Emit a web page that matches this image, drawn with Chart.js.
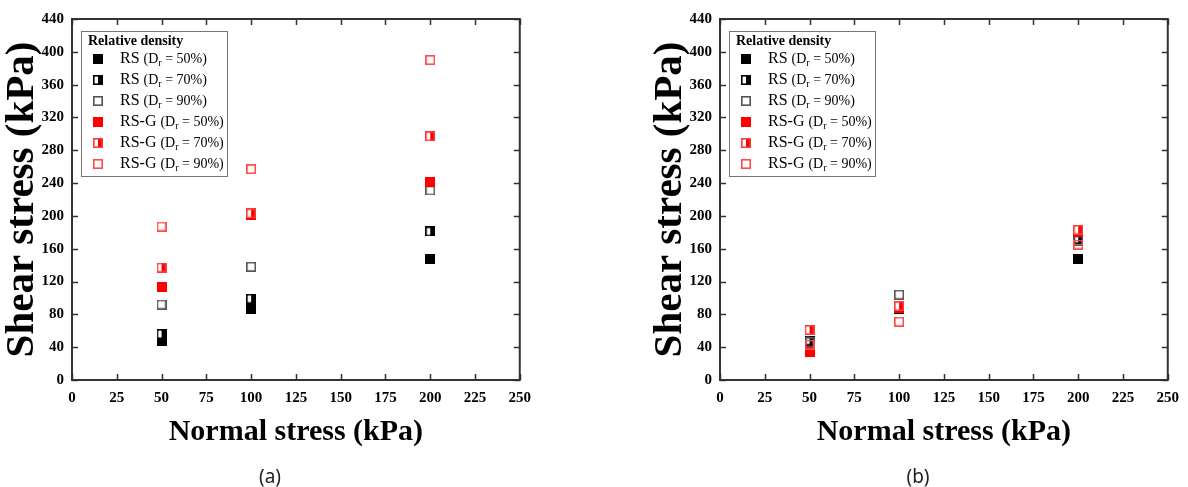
<!DOCTYPE html>
<html>
<head>
<meta charset="utf-8">
<script src="https://cdn.jsdelivr.net/npm/chart.js@4.4.0/dist/chart.umd.min.js"></script>
<style>
body { margin: 0; background: #fff; width: 1188px; height: 487px; overflow: hidden; position: relative; }
canvas { position: absolute; top: 0; }
#chartA { left: 0; }
#chartB { left: 648px; }
.panel { position: absolute; top: 464px; width: 60px; text-align: center; font: 19px 'Noto Sans', sans-serif; line-height: 24px; color: #222; }
</style>
</head>
<body>
<canvas id="chartA" width="540" height="487"></canvas>
<canvas id="chartB" width="540" height="487"></canvas>
<div class="panel" style="left:240px">(a)</div>
<div class="panel" style="left:888px">(b)</div>
<script>
// normal stress levels (kPa)
const normalStress = [50, 100, 200];
const seriesNames = ['RS', 'RS', 'RS', 'RS-G', 'RS-G', 'RS-G'];
const densities = [50, 70, 90, 50, 70, 90];

// (a) shear stress (kPa)
const rs50A = [47, 87, 148];
const rs70A = [56, 99, 181];
const rs90A = [92, 138, 231];
const rsg50A = [113, 201, 241];
const rsg70A = [137, 203, 297];
const rsg90A = [187, 257, 390];

// (b) shear stress (kPa)
const rs50B = [37, 86, 148];
const rs70B = [48, 87, 172];
const rs90B = [46, 104, 170];
const rsg50B = [34, 88, 180];
const rsg70B = [61, 90, 183];
const rsg90B = [43, 71, 165];

const xMax = 250, xStep = 25;
const yMax = 440, yStep = 40;

const serif = "'Liberation Serif', 'Times New Roman', serif";

function makeMarker(color, edge, kind) {
    const c = document.createElement('canvas');
    c.width = 10;
    c.height = 10;
    const g = c.getContext('2d');
    if (kind !== 'open') {
        g.fillStyle = '#fff';
        g.fillRect(0, 0, 10, 10);
        g.fillStyle = color;
        if (kind === 'full') g.fillRect(0, 0, 10, 10);
        else g.fillRect(5, 0, 5, 10);
    }
    g.strokeStyle = edge;
    g.lineWidth = 1.6;
    g.strokeRect(0.8, 0.8, 8.4, 8.4);
    return c;
}

const markers = [
    makeMarker('#000', '#000', 'full'),
    makeMarker('#000', '#000', 'half'),
    makeMarker('#000', '#555', 'open'),
    makeMarker('#ff0000', '#ff0000', 'full'),
    makeMarker('#ff0000', '#ff3a3a', 'half'),
    makeMarker('#ff0000', '#ff4a4a', 'open')
];

const framePlugin = {
    id: 'frame',
    beforeDatasetsDraw(chart) {
        const {ctx, chartArea: a, scales: {x, y}} = chart;
        ctx.save();
        ctx.strokeStyle = '#333';
        ctx.lineWidth = 2;
        ctx.strokeRect(a.left, a.top, a.right - a.left, a.bottom - a.top);
        ctx.lineWidth = 1.5;
        ctx.beginPath();
        x.ticks.forEach(t => {
            const px = Math.round(x.getPixelForValue(t.value)) + 0.5;
            ctx.moveTo(px, a.bottom); ctx.lineTo(px, a.bottom - 6);
            ctx.moveTo(px, a.top); ctx.lineTo(px, a.top + 6);
        });
        y.ticks.forEach(t => {
            const py = Math.round(y.getPixelForValue(t.value)) + 0.5;
            ctx.moveTo(a.left, py); ctx.lineTo(a.left + 6, py);
            ctx.moveTo(a.right, py); ctx.lineTo(a.right - 6, py);
        });
        ctx.stroke();
        ctx.restore();
    }
};

const legendBoxPlugin = {
    id: 'legendBox',
    afterDatasetsDraw(chart) {
        const {ctx, chartArea: a} = chart;
        const left = a.left + 9, top = a.top + 12, w = 146, h = 145;
        ctx.save();
        ctx.fillStyle = '#fff';
        ctx.fillRect(left, top, w, h);
        ctx.strokeStyle = '#777';
        ctx.lineWidth = 1;
        ctx.strokeRect(left + 0.5, top + 0.5, w, h);
        ctx.fillStyle = '#000';
        ctx.textBaseline = 'middle';
        ctx.textAlign = 'left';
        ctx.font = `bold 14px ${serif}`;
        ctx.fillText('Relative density', left + 7, top + 10);
        chart.data.datasets.forEach((ds, i) => {
            const cy = top + 28 + 21 * i;
            ctx.drawImage(ds.pointStyle, left + 12, cy - 5);
            ctx.font = `16px ${serif}`;
            ctx.fillText(seriesNames[i], left + 39, cy);
            let tx = left + 39 + ctx.measureText(seriesNames[i]).width + 4;
            ctx.font = `14px ${serif}`;
            ctx.fillText('(D', tx, cy);
            tx += ctx.measureText('(D').width;
            ctx.font = `10px ${serif}`;
            ctx.fillText('r', tx, cy + 4);
            tx += ctx.measureText('r').width;
            ctx.font = `14px ${serif}`;
            ctx.fillText(` = ${densities[i]}%)`, tx, cy);
        });
        ctx.restore();
    }
};

function makeDatasets(series) {
    return series.map((values, i) => ({
        label: `${seriesNames[i]} (Dr = ${densities[i]}%)`,
        data: normalStress.map((x, j) => ({x: x, y: values[j]})),
        pointStyle: markers[i],
        pointRadius: 5,
        order: 6 - i
    }));
}

function initializeChart(canvasId, series) {
    const ctx = document.getElementById(canvasId).getContext('2d');
    return new Chart(ctx, {
        type: 'scatter',
        data: { datasets: makeDatasets(series) },
        options: {
            responsive: false,
            animation: false,
            layout: { padding: { left: 0, top: 19, right: 20, bottom: 40 } },
            plugins: {
                legend: { display: false },
                tooltip: { enabled: false }
            },
            scales: {
                x: {
                    type: 'linear',
                    min: 0,
                    max: xMax,
                    grid: { display: false, drawTicks: false },
                    border: { display: false },
                    ticks: { stepSize: xStep, padding: 9, color: '#000', font: { family: serif, size: 15, weight: 'bold' } },
                    title: {
                        display: true,
                        text: 'Normal stress (kPa)',
                        color: '#000',
                        padding: { top: 0, bottom: 0 },
                        font: { family: serif, size: 30, weight: 'bold', lineHeight: 1 }
                    },
                    afterFit: scale => { scale.height = 67; }
                },
                y: {
                    min: 0,
                    max: yMax,
                    grid: { display: false, drawTicks: false },
                    border: { display: false },
                    ticks: { stepSize: yStep, padding: 8, color: '#000', font: { family: serif, size: 15, weight: 'bold' } },
                    title: {
                        display: true,
                        text: 'Shear stress (kPa)',
                        color: '#000',
                        padding: { top: 2, bottom: 0 },
                        font: { family: serif, size: 41, weight: 'bold', lineHeight: 1 }
                    },
                    afterFit: scale => { scale.width = 72; }
                }
            }
        },
        plugins: [framePlugin, legendBoxPlugin]
    });
}

let chartA = initializeChart('chartA', [rs50A, rs70A, rs90A, rsg50A, rsg70A, rsg90A]);
let chartB = initializeChart('chartB', [rs50B, rs70B, rs90B, rsg50B, rsg70B, rsg90B]);
</script>
</body>
</html>
